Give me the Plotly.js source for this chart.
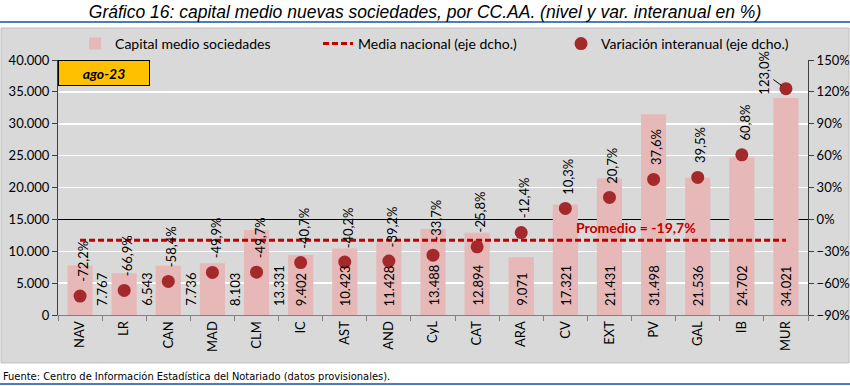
<!DOCTYPE html>
<html>
<head>
<meta charset="utf-8">
<script src="https://cdn.plot.ly/plotly-3.0.1.min.js"></script>
<style>html,body{margin:0;padding:0;background:#fff;}#chart{width:850px;height:386px;}</style>
</head>
<body>
<div id="chart"></div>
<script>
// ---- data ----
const categories = ["NAV","LR","CAN","MAD","CLM","IC","AST","AND","CyL","CAT","ARA","CV","EXT","PV","GAL","IB","MUR"];
const capitalMedio = [7767,6543,7736,8103,13331,9402,10423,11428,13488,12894,9071,17321,21431,31498,21536,24702,34021];
const variacion = [-72.2,-66.9,-58.4,-49.9,-49.7,-40.7,-40.2,-39.2,-33.7,-25.8,-12.4,10.3,20.7,37.6,39.5,60.8,123.0];
const mediaNacional = -19.7;
const periodo = "ago-23";
const titleText = "Gráfico 16: capital medio nuevas sociedades, por CC.AA. (nivel y var. interanual en %)";
const sourceText = "Fuente: Centro de Información Estadística del Notariado (datos provisionales).";

// ---- formatting helpers ----
const fmtThousands = v => String(v).replace(/\B(?=(\d{3})+(?!\d))/g, ".");
const fmtPct = v => v.toFixed(1).replace(".", ",") + "%";

const FONT = "Lato, 'Open Sans', sans-serif";
const barColor = "#e6b8b7";
const dotColor = "#a3292b";
const lineColor = "#c00000";

const traces = [
  {
    type: "bar", name: "Capital medio sociedades",
    x: categories, y: capitalMedio,
    marker: {color: barColor}, yaxis: "y", hoverinfo: "skip"
  },
  {
    type: "scatter", mode: "lines", name: "Media nacional (eje dcho.)",
    x: categories, y: categories.map(() => mediaNacional),
    line: {color: lineColor, width: 3, dash: "6px,3px"}, yaxis: "y2", hoverinfo: "skip"
  },
  {
    type: "scatter", mode: "markers", name: "Variación interanual (eje dcho.)",
    x: categories, y: variacion,
    marker: {color: dotColor, size: 13}, yaxis: "y2", hoverinfo: "skip"
  }
];

const annotations = [];
// value labels at bar base
categories.forEach((c, i) => {
  annotations.push({
    x: c, y: 0, xref: "x", yref: "y",
    text: fmtThousands(capitalMedio[i]),
    textangle: -90, showarrow: false,
    xanchor: "center", yanchor: "bottom",
    xshift: i < 5 ? 22 : 0, yshift: 7,
    font: {family: FONT, size: 13, color: "#000"}
  });
});
// variation labels above markers
categories.forEach((c, i) => {
  const last = i === categories.length - 1;
  if (last) {
    annotations.push({
      x: c, y: variacion[i], xref: "x", yref: "y2",
      text: fmtPct(variacion[i]), textangle: -90,
      showarrow: true, arrowhead: 0, arrowwidth: 1, arrowcolor: "#000",
      ax: -22, ay: -16, standoff: 5,
      font: {family: FONT, size: 13, color: "#000"}
    });
  } else {
    annotations.push({
      x: c, y: variacion[i], xref: "x", yref: "y2",
      text: fmtPct(variacion[i]),
      textangle: -90, showarrow: false,
      xanchor: "center", yanchor: "bottom",
      xshift: 3, yshift: 12,
      font: {family: FONT, size: 13, color: "#000"}
    });
  }
});
// promedio label
annotations.push({
  x: 12.6, y: mediaNacional, xref: "x", yref: "y2",
  text: "<b>Promedio = " + fmtPct(mediaNacional) + "</b>",
  showarrow: false, xanchor: "center", yanchor: "bottom", yshift: 2,
  font: {family: FONT, size: 14, color: lineColor}
});
// period box
annotations.push({
  x: 0, y: 1, xref: "paper", yref: "paper",
  text: "<b><i>" + periodo + "</i></b>", showarrow: false,
  xanchor: "left", yanchor: "top",
  bgcolor: "#ffc000", bordercolor: "#000", borderwidth: 1,
  width: 88, height: 22,
  font: {family: FONT, size: 14, color: "#000"}
});
// source
annotations.push({
  x: 0, y: 0, xref: "paper", yref: "paper",
  text: sourceText, showarrow: false,
  xanchor: "left", yanchor: "middle",
  xshift: -57, yshift: -61,
  font: {family: "'Liberation Sans Narrow', 'DejaVu Sans Condensed', sans-serif", size: 11, color: "#000"}
});

const layout = {
  width: 850, height: 386,
  margin: {l: 58, r: 42, t: 60, b: 71},
  paper_bgcolor: "#ffffff", plot_bgcolor: "#d9d9d9",
  separators: ",.",
  showlegend: true,
  title: {
    text: titleText, x: 0.5, xanchor: "center", xref: "container",
    y: 0.968, yanchor: "middle", yref: "container",
    font: {family: "'Liberation Sans', Arial, sans-serif", size: 17.5, style: "italic", color: "#000"}
  },
  legend: {
    orientation: "h", x: 0.0227, xanchor: "left", y: 1.063, yanchor: "middle",
    entrywidth: 198, entrywidthmode: "pixels",
    bgcolor: "rgba(0,0,0,0)", font: {family: FONT, size: 14, color: "#000"},
    traceorder: "normal"
  },
  bargap: 0.43,
  xaxis: {
    type: "category", range: [-0.5, categories.length - 0.5], autorange: false,
    tickangle: -90, ticks: "outside", tickson: "boundaries",
    ticklen: 5, tickcolor: "#808080",
    showline: true, linecolor: "#808080", linewidth: 1,
    showgrid: false, tickfont: {family: FONT, size: 13, color: "#000"}
  },
  yaxis: {
    range: [0, 40000], autorange: false, dtick: 5000, tickformat: ",d",
    ticks: "outside", ticklen: 5, tickcolor: "#404040",
    showline: true, linecolor: "#404040", linewidth: 1,
    showgrid: true, gridcolor: "#ffffff", gridwidth: 1.5,
    zeroline: false, tickfont: {family: FONT, size: 13, color: "#000"}
  },
  yaxis2: {
    overlaying: "y", side: "right",
    range: [-90, 150], autorange: false, dtick: 30, ticksuffix: "%",
    ticks: "outside", ticklen: 5, tickcolor: "#404040",
    showline: true, linecolor: "#404040", linewidth: 1,
    showgrid: false, zeroline: true, zerolinecolor: "#000", zerolinewidth: 1,
    tickfont: {family: FONT, size: 13, color: "#000"}
  },
  shapes: [
    {type: "rect", xref: "paper", yref: "paper", x0: -0.076, x1: 1.0547, y0: -0.188, y1: 1.1255,
     fillcolor: "#d9d9d9", line: {color: "#bfbfbf", width: 1}, layer: "below"},
    {type: "line", xref: "paper", yref: "paper", x0: -0.0773, x1: 1.056, y0: 1.149, y1: 1.149,
     line: {color: "#4a7ebb", width: 2}},
    {type: "line", xref: "paper", yref: "paper", x0: -0.0773, x1: 1.056, y0: -0.271, y1: -0.271,
     line: {color: "#4a7ebb", width: 2}}
  ],
  annotations: annotations
};

Plotly.newPlot("chart", traces, layout, {displayModeBar: false, staticPlot: true});
</script>
</body>
</html>
